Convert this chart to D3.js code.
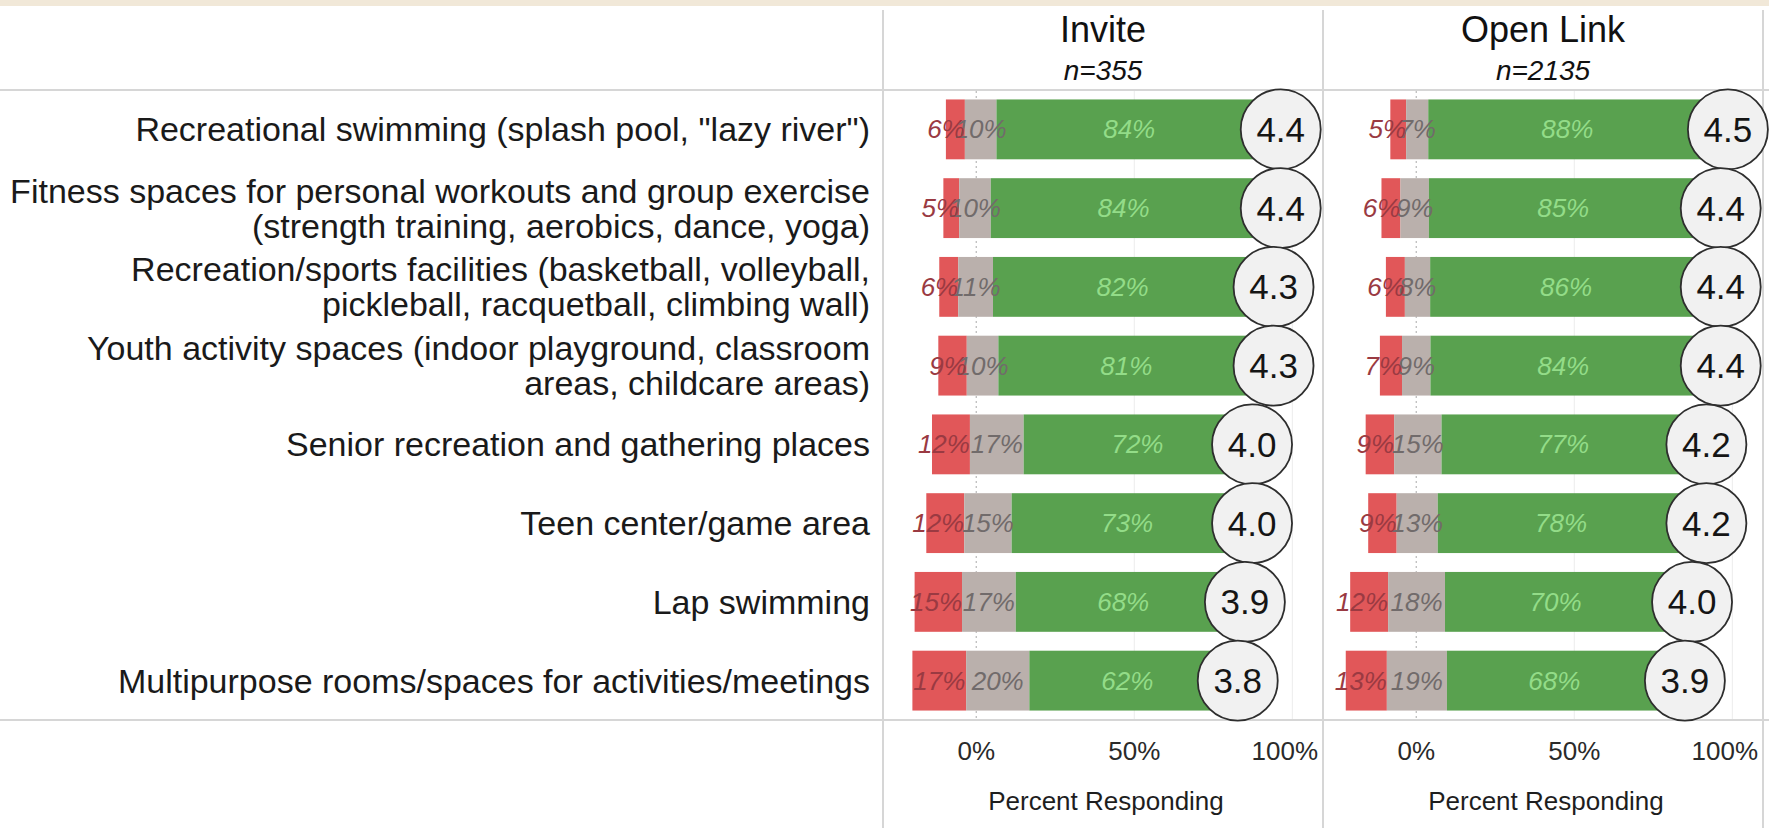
<!DOCTYPE html>
<html>
<head>
<meta charset="utf-8">
<script src="https://cdn.jsdelivr.net/npm/d3@7"></script>
<style>
  html, body { margin: 0; padding: 0; background: #ffffff; }
  svg { display: block; font-family: "Liberation Sans", Arial, sans-serif; }
</style>
</head>
<body>
<svg id="chart" width="1769" height="828"></svg>
<script>
// Amenities, one entry per row; each entry lists its wrapped lines
const categories = [
  ["Recreational swimming (splash pool, \"lazy river\")"],
  ["Fitness spaces for personal workouts and group exercise", "(strength training, aerobics, dance, yoga)"],
  ["Recreation/sports facilities (basketball, volleyball,", "pickleball, racquetball, climbing wall)"],
  ["Youth activity spaces (indoor playground, classroom", "areas, childcare areas)"],
  ["Senior recreation and gathering places"],
  ["Teen center/game area"],
  ["Lap swimming"],
  ["Multipurpose rooms/spaces for activities/meetings"]
];

const panelTitles = ["Invite", "Open Link"];
const panelCounts = ["n=355", "n=2135"];

// Invite sample (percent responding)
const inviteNegative = [6, 5, 6, 9, 12, 12, 15, 17];
const inviteNeutral  = [10, 10, 11, 10, 17, 15, 17, 20];
const invitePositive = [84, 84, 82, 81, 72, 73, 68, 62];
const inviteMean     = [4.4, 4.4, 4.3, 4.3, 4.0, 4.0, 3.9, 3.8];
const inviteStart    = [-9.6, -10.4, -11.7, -12, -14, -15.8, -19.5, -20.2];

// Open link sample (percent responding)
const openNegative = [5, 6, 6, 7, 9, 9, 12, 13];
const openNeutral  = [7, 9, 8, 9, 15, 13, 18, 19];
const openPositive = [88, 85, 86, 84, 77, 78, 70, 68];
const openMean     = [4.5, 4.4, 4.4, 4.4, 4.2, 4.2, 4.0, 3.9];
const openStart    = [-8.2, -11, -9.6, -11.5, -16, -15.2, -20.9, -22.3];

const xTicks = [0, 50, 100];
const axisTitle = "Percent Responding";

const panels = [
  { title: panelTitles[0], count: panelCounts[0], neg: inviteNegative, neu: inviteNeutral, pos: invitePositive, mean: inviteMean, start: inviteStart },
  { title: panelTitles[1], count: panelCounts[1], neg: openNegative, neu: openNeutral, pos: openPositive, mean: openMean, start: openStart }
];

const W = 1769, H = 828;
const headerBottom = 90, rowsBottom = 720;
const labelRight = 870;
const panelLeft = [883, 1323];
const panelW = 440;
const colors = { neg: "#e15759", neu: "#bab0ac", pos: "#59a14f" };
const lineColor = "#d6d6d6";

const svg = d3.select("#chart");

// beige strip along the top edge
svg.append("rect").attr("x", 0).attr("y", 0).attr("width", W).attr("height", 6).attr("fill", "#f1e8d8");

const y = d3.scaleBand()
  .domain(d3.range(categories.length))
  .range([headerBottom, rowsBottom])
  .paddingInner(0.24)
  .paddingOuter(0.12);
const rowCenter = i => y(i) + y.bandwidth() / 2;

const x = d3.scaleLinear().domain([-29.5, 109.7]).range([0, panelW]);
const meanX = d3.scaleLinear().domain([-1.15, 4.99]).range([0, panelW]);

// frame lines
const frame = svg.append("g").attr("stroke", lineColor).attr("stroke-width", 2);
[panelLeft[0], panelLeft[1], panelLeft[1] + panelW].forEach(px => {
  frame.append("line").attr("x1", px).attr("x2", px).attr("y1", 10).attr("y2", H);
});
[headerBottom, rowsBottom].forEach(py => {
  frame.append("line").attr("x1", 0).attr("x2", W).attr("y1", py).attr("y2", py);
});

// row labels
const labels = svg.append("g").attr("fill", "#1a1a1a").attr("font-size", 34);
categories.forEach((lines, i) => {
  const lh = 35;
  const top = rowCenter(i) - (lines.length - 1) * lh / 2;
  lines.forEach((t, k) => {
    labels.append("text")
      .attr("x", labelRight).attr("y", top + k * lh).attr("dy", "0.35em")
      .attr("text-anchor", "end")
      .text(t);
  });
});

panels.forEach((p, pi) => {
  const g = svg.append("g").attr("transform", `translate(${panelLeft[pi]},0)`);

  // header
  g.append("text").attr("x", panelW / 2).attr("y", 42).attr("text-anchor", "middle")
    .attr("font-size", 36).attr("fill", "#111").text(p.title);
  g.append("text").attr("x", panelW / 2).attr("y", 80).attr("text-anchor", "middle")
    .attr("font-size", 28).attr("font-style", "italic").attr("fill", "#111").text(p.count);

  // gridlines
  const grid = g.append("g");
  xTicks.forEach(t => {
    grid.append("line")
      .attr("x1", x(t)).attr("x2", x(t))
      .attr("y1", headerBottom + 1).attr("y2", rowsBottom - 1)
      .attr("stroke", t === 0 ? "#b8b8b8" : "#ececec")
      .attr("stroke-width", t === 0 ? 1.2 : 1)
      .attr("stroke-dasharray", t === 0 ? "2,3" : null);
  });

  // stacked segments
  const rows = categories.map((c, i) => {
    const s0 = p.start[i];
    const s1 = s0 + p.neg[i];
    const s2 = s1 + p.neu[i];
    const s3 = s2 + p.pos[i];
    return { i, segs: [
      { key: "neg", v: p.neg[i], a: s0, b: s1 },
      { key: "neu", v: p.neu[i], a: s1, b: s2 },
      { key: "pos", v: p.pos[i], a: s2, b: s3 }
    ]};
  });

  const barG = g.append("g");
  rows.forEach(r => {
    r.segs.forEach(s => {
      barG.append("rect")
        .attr("x", x(s.a)).attr("y", y(r.i))
        .attr("width", x(s.b) - x(s.a)).attr("height", y.bandwidth())
        .attr("fill", colors[s.key]);
    });
  });

  // value labels: neutral, then positive, then negative on top
  const lab = g.append("g").attr("font-size", 26).attr("font-style", "italic");
  rows.forEach(r => {
    const [ng, nu, ps] = r.segs;
    const cy = rowCenter(r.i) + 9;

    lab.append("text")
      .attr("x", (x(nu.a) + x(nu.b)) / 2).attr("y", cy)
      .attr("text-anchor", "middle").attr("fill", "#716b6b")
      .text(nu.v + "%");

    lab.append("text")
      .attr("x", (x(ps.a) + x(ps.b)) / 2).attr("y", cy)
      .attr("text-anchor", "middle").attr("fill", "#93dc88")
      .text(ps.v + "%");

    const segW = x(ng.b) - x(ng.a);
    const t = lab.append("text")
      .attr("x", (x(ng.a) + x(ng.b)) / 2).attr("y", cy)
      .attr("text-anchor", "middle").attr("fill", "#9a3a42")
      .text(ng.v + "%");
    const tw = t.node().getComputedTextLength();
    if (tw > segW) {
      t.attr("text-anchor", "end").attr("x", x(ng.b));
    } else if (tw + 4 < segW) {
      t.attr("fill", "#f8caca");
    }
  });

  // mean score circles
  const circ = g.append("g");
  rows.forEach(r => {
    const cx = meanX(p.mean[r.i]);
    const cy = rowCenter(r.i);
    circ.append("circle")
      .attr("cx", cx).attr("cy", cy).attr("r", 40)
      .attr("fill", "#f1f1f1").attr("stroke", "#2e2e2e").attr("stroke-width", 1.8);
    circ.append("text")
      .attr("x", cx).attr("y", cy + 12.5)
      .attr("text-anchor", "middle").attr("font-size", 35).attr("fill", "#151515")
      .text(p.mean[r.i].toFixed(1));
  });

  // bottom axis
  const ax = g.append("g").attr("font-size", 26).attr("fill", "#2a2a2a");
  xTicks.forEach(t => {
    const txt = ax.append("text").attr("x", x(t)).attr("y", 760)
      .attr("text-anchor", "middle").text(t + "%");
    const w = txt.node().getComputedTextLength();
    if (x(t) + w / 2 > panelW - 5) {
      txt.attr("text-anchor", "end").attr("x", panelW - 5);
    }
  });
  g.append("text").attr("x", panelW / 2 + 3).attr("y", 810).attr("text-anchor", "middle")
    .attr("font-size", 26).attr("fill", "#1e1e1e").text(axisTitle);
});
</script>
</body>
</html>
